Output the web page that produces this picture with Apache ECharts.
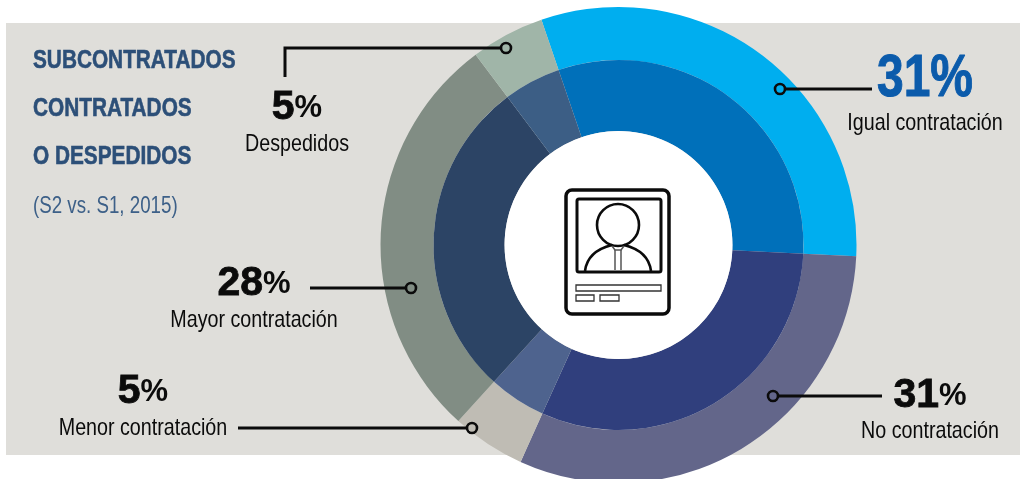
<!DOCTYPE html>
<html>
<head>
<meta charset="utf-8">
<style>
html,body{margin:0;padding:0;background:#fff;width:1020px;height:479px;overflow:hidden}
#panel{position:absolute;left:6px;top:23px;width:1014px;height:432px;background:#dfdeda}
#chart{position:absolute;left:0;top:0;width:1020px;height:479px}
</style>
<script src="https://cdn.jsdelivr.net/npm/echarts@6/dist/echarts.min.js"></script>
</head>
<body>
<div id="panel"></div>
<div id="chart"></div>
<script>
const categories = ['Igual contratación','No contratación','Menor contratación','Mayor contratación','Despedidos'];
const values = [31,31,5,28,5];
const outerColors = ['#00aeef','#63668a','#bfbcb4','#818d84','#a0b5a8'];
const innerColors = ['#0070ba','#303f7d','#4e638e','#2c4465','#3c5e85'];
const titleLines = ['SUBCONTRATADOS','CONTRATADOS','O DESPEDIDOS'];
const subtitle = '(S2 vs. S1, 2015)';

const SANS = '"Liberation Sans",sans-serif';
const INK = '#0b0b0b';
const TOP = 100;

function toData(colors){
  return categories.map((name,i)=>({name,value:values[i],itemStyle:{color:colors[i]}}));
}
function ring(radius,colors){
  return {type:'pie',center:[618.5,245],radius,startAngle:108.9,clockwise:true,silent:true,
    label:{show:false},labelLine:{show:false},itemStyle:{borderWidth:0},
    animation:false,data:toData(colors)};
}
function text(x,y,t,font,fill,align,sx,sw){
  return {type:'text',x,y,z:TOP,scaleX:sx||0.82,silent:true,style:{text:t,font,fill,textAlign:align||'center',textVerticalAlign:'middle',stroke:sw?fill:null,lineWidth:sw||0}};
}
function pct(x,y,i){
  return {type:'text',x,y,z:TOP,silent:true,style:{
    text:'{n|'+values[i]+'}{p|%}',textAlign:'center',textVerticalAlign:'middle',
    rich:{n:{font:'bold 41px '+SANS,fill:INK,stroke:INK,lineWidth:0.8},p:{font:'bold 31px '+SANS,fill:INK}}}};
}
function line(pts){
  return {type:'polyline',z:TOP,silent:true,shape:{points:pts},style:{stroke:INK,lineWidth:3,fill:null}};
}
function dot(x,y){
  return {type:'circle',z:TOP,silent:true,shape:{cx:x,cy:y,r:5},style:{fill:'none',stroke:INK,lineWidth:2.6}};
}
function box(x,y,w,h,r,lw,stroke){
  return {type:'rect',z:TOP+1,silent:true,shape:{x,y,width:w,height:h,r:r||0},style:{fill:'none',stroke:stroke||INK,lineWidth:lw}};
}
function curve(x1,y1,cx1,cy1,cx2,cy2,x2,y2){
  return {type:'bezierCurve',z:TOP+1,silent:true,shape:{x1,y1,cpx1:cx1,cpy1:cy1,cpx2:cx2,cpy2:cy2,x2,y2},style:{fill:'none',stroke:INK,lineWidth:2.6}};
}
function tieLine(pts){
  return {type:'polyline',z:TOP+1,silent:true,shape:{points:pts},style:{stroke:'#555',lineWidth:1.5,fill:null}};
}

const elements = [
  text(33,61,titleLines[0],'bold 26px '+SANS,'#2c4f78','left',0.8,0.6),
  text(33,109,titleLines[1],'bold 26px '+SANS,'#2c4f78','left',0.8,0.6),
  text(33,157,titleLines[2],'bold 26px '+SANS,'#2c4f78','left',0.8,0.6),
  text(33,206,subtitle,'24px '+SANS,'#3d6088','left',0.78),

  line([[285,77],[285,48],[501,48]]), dot(506,48),
  pct(297,108,4), text(297,144,categories[4],'24px '+SANS,INK),

  line([[872,89],[785,89]]), dot(780,89),
  text(925,79,values[0]+'%','bold 60px '+SANS,'#0b5bab','center',0.8,1),
  text(925,123,categories[0],'24px '+SANS,INK),

  line([[882,396],[778,396]]), dot(773,396),
  pct(930,396,1), text(930,431,categories[1],'24px '+SANS,INK),

  line([[310,288],[406,288]]), dot(411,288),
  pct(254,284,3), text(254,320,categories[3],'24px '+SANS,INK),

  line([[238,428],[467,428]]), dot(472,428),
  pct(143,392,2), text(143,428,categories[2],'24px '+SANS,INK),

  // white hub and identity-card icon
  {type:'circle',z:TOP,silent:true,shape:{cx:618.5,cy:245,r:114},style:{fill:'#fff'}},
  box(566,190,103,124,6,3.5),
  box(577,199,84,73,2,3),
  {type:'circle',z:TOP+1,silent:true,shape:{cx:618,cy:225,r:21},style:{fill:'none',stroke:INK,lineWidth:2.6}},
  curve(585,271,587,255,600,248,612,245),
  curve(651,271,649,255,636,248,624,245),
  tieLine([[615,250],[615,270]]),
  tieLine([[621,250],[621,270]]),
  tieLine([[612,246],[615,250],[621,250],[624,246]]),
  box(576,285,85,6,0,1.3,'#333'),
  box(576,295,18,6,0,1.3,'#333'),
  box(600,295,19,6,0,1.3,'#333')
];

const chart = echarts.init(document.getElementById('chart'),null,{renderer:'canvas',width:1020,height:479});
chart.setOption({
  animation:false,
  backgroundColor:'transparent',
  series:[ring([185,238],outerColors),ring([114,185],innerColors)],
  graphic:{elements}
});
</script>
</body>
</html>
